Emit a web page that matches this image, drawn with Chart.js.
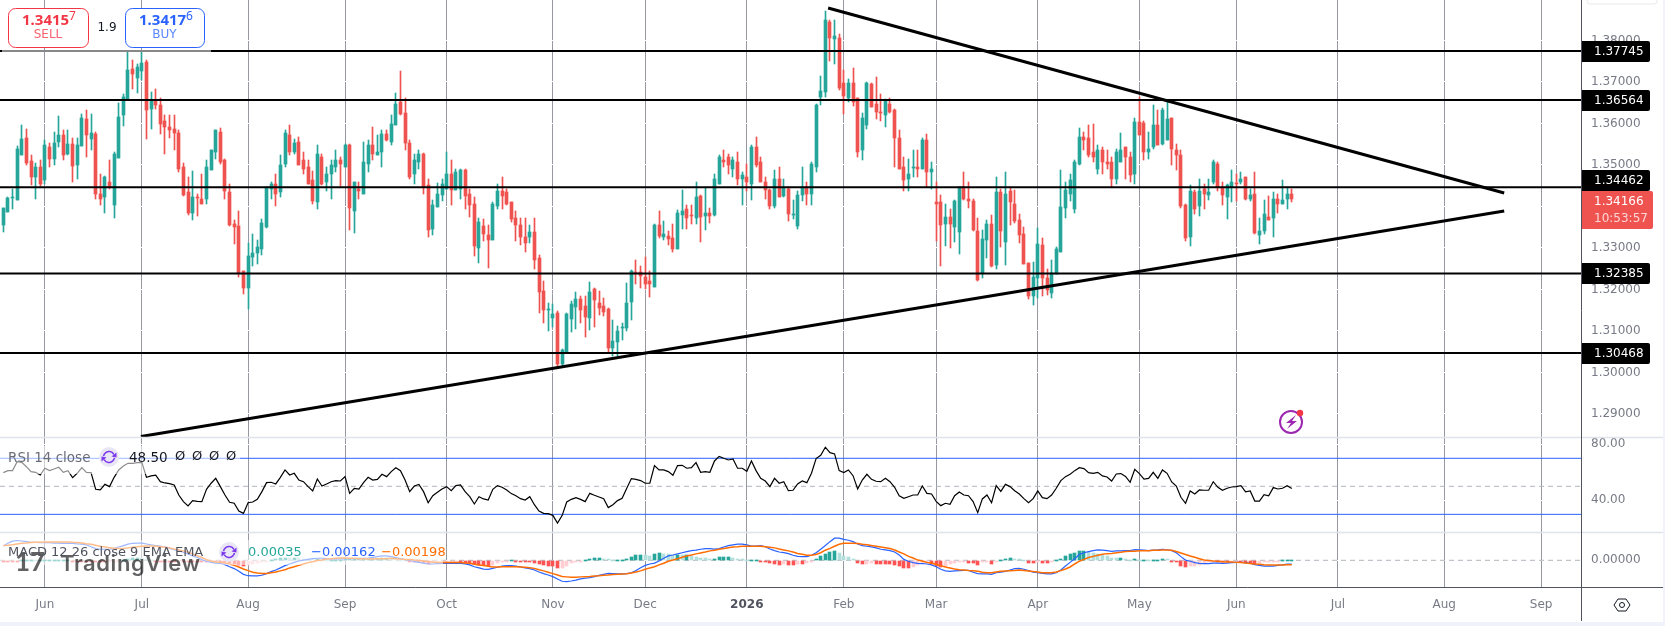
<!DOCTYPE html>
<html>
<head>
<meta charset="utf-8">
<title>GBPUSD daily</title>
<style>html,body{margin:0;padding:0;background:#fff}canvas{display:block}</style>
<script src="https://cdn.jsdelivr.net/npm/chart.js@4/dist/chart.umd.min.js"></script>
</head>
<body>
<canvas id="chart" width="1665" height="626"></canvas>
<script>
// Daily candles, one entry per trading session
const opens = [
1.3355,1.3387,1.3420,1.3415,1.3525,1.3566,1.3510,1.3470,1.3494,1.3463,
1.3544,1.3515,1.3556,1.3573,1.3527,1.3551,1.3501,1.3545,1.3611,1.3563,
1.3575,1.3429,1.3422,1.3460,1.3403,1.3517,1.3621,1.3659,1.3731,1.3710,
1.3727,1.3748,1.3635,1.3657,1.3645,1.3607,1.3592,1.3587,1.3578,1.3494,
1.3434,1.3383,1.3422,1.3417,1.3417,1.3487,1.3530,1.3580,1.3513,1.3434,
1.3357,1.3352,1.3244,1.3203,1.3278,1.3287,1.3297,1.3350,1.3441,1.3453,
1.3434,1.3503,1.3571,1.3532,1.3556,1.3513,1.3494,1.3463,1.3410,1.3520,
1.3458,1.3479,1.3494,1.3513,1.3496,1.3547,1.3388,1.3441,1.3431,1.3503,
1.3549,1.3525,1.3532,1.3575,1.3556,1.3597,1.3652,1.3626,1.3554,1.3477,
1.3508,1.3527,1.3451,1.3345,1.3399,1.3428,1.3443,1.3479,1.3439,1.3441,
1.3487,1.3431,1.3407,1.3299,1.3352,1.3331,1.3319,1.3400,1.3436,1.3434,
1.3410,1.3371,1.3355,1.3326,1.3326,1.3338,1.3275,1.3196,1.3151,1.3131,
1.3143,1.3021,1.3050,1.3129,1.3158,1.3177,1.3160,1.3131,1.3201,1.3167,
1.3160,1.3153,1.3059,1.3074,1.3106,1.3107,1.3170,1.3241,1.3242,1.3230,
1.3220,1.3206,1.3355,1.3326,1.3328,1.3323,1.3297,1.3379,1.3393,1.3379,
1.3371,1.3424,1.3376,1.3383,1.3379,1.3455,1.3513,1.3520,1.3491,1.3508,
1.3467,1.3470,1.3453,1.3542,1.3506,1.3460,1.3439,1.3400,1.3467,1.3424,
1.3443,1.3379,1.3352,1.3427,1.3448,1.3431,1.3494,1.3664,1.3676,1.3844,
1.3803,1.3806,1.3698,1.3662,1.3698,1.3662,1.3535,1.3597,1.3695,1.3647,
1.3626,1.3621,1.3647,1.3633,1.3566,1.3494,1.3465,1.3492,1.3494,1.3491,
1.3559,1.3482,1.3410,1.3410,1.3357,1.3374,1.3350,1.3338,1.3446,1.3419,
1.3412,1.3340,1.3239,1.3319,1.3357,1.3259,1.3434,1.3314,1.3436,1.3407,
1.3367,1.3333,1.3263,1.3184,1.3227,1.3307,1.3227,1.3191,1.3237,1.3290,
1.3395,1.3431,1.3393,1.3503,1.3568,1.3566,1.3530,1.3489,1.3535,1.3508,
1.3506,1.3467,1.3506,1.3542,1.3518,1.3477,1.3604,1.3602,1.3530,1.3544,
1.3595,1.3551,1.3559,1.3614,1.3537,1.3525,1.3403,1.3326,1.3434,1.3400,
1.3441,1.3427,1.3458,1.3503,1.3448,1.3422,1.3448,1.3456,1.3458,1.3470,
1.3417,1.3431,1.3331,1.3340,1.3374,1.3371,1.3417,1.3407,1.3417,1.3431];
const highs = [
1.3395,1.3423,1.3443,1.3545,1.3595,1.3587,1.3523,1.3505,1.3513,1.3561,
1.3553,1.3580,1.3619,1.3585,1.3583,1.3565,1.3565,1.3623,1.3633,1.3623,
1.3580,1.3477,1.3473,1.3513,1.3532,1.3650,1.3671,1.3771,1.3753,1.3743,
1.3771,1.3753,1.3676,1.3683,1.3662,1.3621,1.3621,1.3621,1.3585,1.3505,
1.3470,1.3486,1.3429,1.3477,1.3513,1.3535,1.3585,1.3590,1.3515,1.3455,
1.3367,1.3388,1.3244,1.3311,1.3333,1.3319,1.3369,1.3448,1.3460,1.3479,
1.3525,1.3585,1.3597,1.3563,1.3568,1.3532,1.3511,1.3485,1.3547,1.3527,
1.3494,1.3513,1.3535,1.3518,1.3551,1.3551,1.3460,1.3460,1.3556,1.3559,
1.3592,1.3573,1.3585,1.3583,1.3621,1.3674,1.3727,1.3662,1.3561,1.3527,
1.3537,1.3529,1.3467,1.3415,1.3457,1.3467,1.3530,1.3511,1.3489,1.3491,
1.3489,1.3441,1.3422,1.3371,1.3369,1.3355,1.3410,1.3455,1.3472,1.3443,
1.3410,1.3388,1.3371,1.3371,1.3355,1.3371,1.3283,1.3220,1.3167,1.3165,
1.3148,1.3057,1.3143,1.3172,1.3194,1.3184,1.3184,1.3218,1.3203,1.3196,
1.3179,1.3155,1.3127,1.3112,1.3119,1.3215,1.3247,1.3271,1.3256,1.3278,
1.3244,1.3357,1.3388,1.3364,1.3340,1.3357,1.3391,1.3439,1.3403,1.3403,
1.3458,1.3427,1.3448,1.3395,1.3479,1.3525,1.3535,1.3527,1.3520,1.3532,
1.3484,1.3503,1.3549,1.3568,1.3518,1.3470,1.3441,1.3487,1.3496,1.3465,
1.3446,1.3415,1.3436,1.3494,1.3460,1.3508,1.3647,1.3715,1.3871,1.3849,
1.3849,1.3815,1.3729,1.3707,1.3734,1.3662,1.3626,1.3700,1.3698,1.3712,
1.3671,1.3659,1.3662,1.3635,1.3583,1.3518,1.3515,1.3537,1.3537,1.3566,
1.3575,1.3508,1.3459,1.3427,1.3405,1.3393,1.3415,1.3448,1.3484,1.3460,
1.3417,1.3371,1.3343,1.3367,1.3379,1.3470,1.3443,1.3482,1.3446,1.3439,
1.3381,1.3350,1.3263,1.3266,1.3347,1.3323,1.3249,1.3271,1.3302,1.3487,
1.3460,1.3479,1.3511,1.3590,1.3580,1.3597,1.3599,1.3547,1.3542,1.3535,
1.3520,1.3539,1.3578,1.3542,1.3532,1.3614,1.3664,1.3607,1.3580,1.3645,
1.3633,1.3638,1.3655,1.3614,1.3551,1.3535,1.3407,1.3451,1.3439,1.3465,
1.3455,1.3465,1.3511,1.3508,1.3460,1.3455,1.3487,1.3477,1.3484,1.3472,
1.3443,1.3484,1.3371,1.3415,1.3424,1.3434,1.3429,1.3463,1.3446,1.3443];
const lows = [
1.3339,1.3387,1.3393,1.3415,1.3525,1.3501,1.3451,1.3417,1.3449,1.3453,
1.3495,1.3501,1.3543,1.3511,1.3523,1.3459,1.3465,1.3545,1.3519,1.3537,
1.3417,1.3403,1.3383,1.3443,1.3371,1.3517,1.3593,1.3659,1.3683,1.3674,
1.3705,1.3563,1.3587,1.3635,1.3575,1.3527,1.3566,1.3535,1.3484,1.3425,
1.3379,1.3367,1.3377,1.3407,1.3405,1.3487,1.3515,1.3503,1.3417,1.3353,
1.3309,1.3230,1.3189,1.3153,1.3257,1.3261,1.3283,1.3347,1.3419,1.3400,
1.3422,1.3494,1.3523,1.3527,1.3501,1.3479,1.3453,1.3407,1.3393,1.3451,
1.3436,1.3417,1.3484,1.3449,1.3496,1.3343,1.3335,1.3417,1.3431,1.3484,
1.3513,1.3525,1.3496,1.3557,1.3549,1.3597,1.3621,1.3535,1.3465,1.3455,
1.3489,1.3429,1.3326,1.3331,1.3398,1.3414,1.3443,1.3403,1.3439,1.3417,
1.3393,1.3374,1.3280,1.3263,1.3316,1.3251,1.3319,1.3393,1.3393,1.3403,
1.3362,1.3316,1.3307,1.3290,1.3311,1.3249,1.3143,1.3119,1.3100,1.3109,
1.3014,1.3014,1.3050,1.3098,1.3105,1.3119,1.3086,1.3103,1.3110,1.3139,
1.3136,1.3047,1.3040,1.3040,1.3079,1.3100,1.3127,1.3213,1.3203,1.3201,
1.3182,1.3206,1.3323,1.3319,1.3307,1.3290,1.3297,1.3345,1.3345,1.3357,
1.3357,1.3314,1.3343,1.3359,1.3376,1.3455,1.3494,1.3479,1.3470,1.3451,
1.3403,1.3436,1.3415,1.3494,1.3458,1.3417,1.3393,1.3395,1.3422,1.3422,
1.3364,1.3369,1.3345,1.3412,1.3403,1.3403,1.3484,1.3645,1.3664,1.3751,
1.3743,1.3681,1.3623,1.3652,1.3643,1.3518,1.3511,1.3587,1.3640,1.3611,
1.3607,1.3592,1.3626,1.3496,1.3491,1.3436,1.3436,1.3470,1.3472,1.3489,
1.3446,1.3441,1.3316,1.3256,1.3304,1.3299,1.3314,1.3285,1.3415,1.3395,
1.3340,1.3220,1.3227,1.3275,1.3254,1.3249,1.3302,1.3259,1.3355,1.3359,
1.3311,1.3261,1.3177,1.3163,1.3179,1.3184,1.3187,1.3179,1.3237,1.3290,
1.3371,1.3412,1.3383,1.3501,1.3537,1.3518,1.3506,1.3477,1.3477,1.3489,
1.3448,1.3455,1.3506,1.3465,1.3460,1.3455,1.3573,1.3513,1.3515,1.3539,
1.3549,1.3549,1.3559,1.3501,1.3487,1.3395,1.3316,1.3304,1.3381,1.3376,
1.3393,1.3415,1.3453,1.3436,1.3403,1.3369,1.3410,1.3412,1.3453,1.3415,
1.3412,1.3333,1.3309,1.3333,1.3367,1.3326,1.3383,1.3407,1.3393,1.3410];
const closes = [
1.3395,1.3421,1.3421,1.3539,1.3563,1.3505,1.3471,1.3494,1.3453,1.3547,
1.3515,1.3553,1.3571,1.3525,1.3551,1.3497,1.3547,1.3614,1.3573,1.3577,
1.3429,1.3419,1.3470,1.3447,1.3527,1.3616,1.3663,1.3729,1.3719,1.3735,
1.3746,1.3633,1.3655,1.3645,1.3599,1.3592,1.3585,1.3578,1.3489,1.3427,
1.3383,1.3422,1.3420,1.3407,1.3494,1.3535,1.3583,1.3506,1.3436,1.3355,
1.3350,1.3239,1.3203,1.3280,1.3287,1.3302,1.3359,1.3448,1.3453,1.3431,
1.3501,1.3578,1.3530,1.3554,1.3501,1.3491,1.3453,1.3412,1.3527,1.3453,
1.3479,1.3499,1.3513,1.3503,1.3547,1.3395,1.3460,1.3436,1.3508,1.3547,
1.3527,1.3532,1.3575,1.3559,1.3599,1.3647,1.3623,1.3554,1.3470,1.3513,
1.3527,1.3447,1.3343,1.3403,1.3431,1.3453,1.3479,1.3439,1.3482,1.3487,
1.3424,1.3403,1.3304,1.3362,1.3333,1.3319,1.3405,1.3436,1.3424,1.3405,
1.3369,1.3355,1.3326,1.3311,1.3338,1.3271,1.3194,1.3151,1.3153,1.3141,
1.3021,1.3055,1.3141,1.3165,1.3177,1.3151,1.3134,1.3194,1.3175,1.3155,
1.3146,1.3059,1.3076,1.3100,1.3108,1.3167,1.3244,1.3239,1.3232,1.3213,
1.3213,1.3355,1.3328,1.3333,1.3321,1.3297,1.3383,1.3388,1.3371,1.3377,
1.3422,1.3374,1.3383,1.3376,1.3465,1.3520,1.3506,1.3499,1.3513,1.3467,
1.3475,1.3460,1.3544,1.3501,1.3458,1.3439,1.3400,1.3465,1.3422,1.3448,
1.3381,1.3381,1.3427,1.3446,1.3431,1.3503,1.3645,1.3679,1.3849,1.3806,
1.3811,1.3686,1.3667,1.3698,1.3652,1.3530,1.3614,1.3698,1.3640,1.3628,
1.3624,1.3657,1.3628,1.3566,1.3491,1.3463,1.3479,1.3494,1.3489,1.3561,
1.3482,1.3489,1.3405,1.3355,1.3374,1.3357,1.3412,1.3446,1.3417,1.3412,
1.3343,1.3223,1.3321,1.3357,1.3256,1.3434,1.3340,1.3429,1.3410,1.3364,
1.3331,1.3261,1.3184,1.3230,1.3309,1.3227,1.3199,1.3239,1.3297,1.3398,
1.3439,1.3463,1.3506,1.3568,1.3559,1.3525,1.3518,1.3535,1.3508,1.3503,
1.3465,1.3532,1.3535,1.3518,1.3475,1.3604,1.3573,1.3530,1.3539,1.3595,
1.3549,1.3633,1.3611,1.3539,1.3523,1.3400,1.3323,1.3436,1.3393,1.3436,
1.3429,1.3434,1.3508,1.3446,1.3427,1.3451,1.3458,1.3454,1.3465,1.3417,
1.3427,1.3337,1.3340,1.3381,1.3367,1.3417,1.3405,1.3415,1.3429,1.3417];

// RSI 14 on the close
const rsiValues = [
59.8,61.2,61.2,67.6,67.1,64,60.5,60,58.1,62.9,
61.2,62.4,63.6,60,61.2,56.2,59.3,63.3,60,59.8,
47.9,47.4,51.4,49.8,56.4,61.7,64.5,66.4,66.4,66.9,
67.1,56.4,57.4,57.9,53.3,52.4,51.9,51,43.8,39.1,
36,39.8,39.3,39.1,47.9,52.2,55.7,49.8,43.8,38.6,
37.9,32.4,30.7,38.3,38.8,40.7,46.2,52.6,52.9,51.7,
56.4,61.7,58.1,59.3,54.5,53.3,49.8,46.7,55.2,50.2,
51.7,53.3,54.1,53.8,56.9,45,48.6,48.1,52.6,56.4,
54.5,55,58.6,56.9,60.5,63.3,61.2,54.5,46.2,50.2,
51.4,46.2,38.3,43.3,45.7,48.1,49.8,46.9,50.5,51,
46.2,42.6,37.4,42.6,41,40.2,47.9,50.5,49.3,47.4,
44.8,43.3,41.2,40.2,42.6,36.9,32.4,30.7,30.5,29.3,
23.8,29.1,38.8,40.7,41.9,40.7,39.1,45,43.6,42.4,
41.2,34.8,36.9,39.8,41.4,48.6,55.5,55,54.1,52.2,
52.2,64.8,61.7,61.7,60.5,57.9,64.8,65,62.9,63.3,
66.9,60,60.5,60,68.1,71.4,70,68.8,69.5,62.9,
62.9,60.7,68.1,61.2,55.7,53.8,49.8,55.7,52.2,53.3,
46.9,47.2,51.7,53.8,52.6,59.3,69.8,72.1,77.9,74,
73.1,61.2,59.8,61.7,57.6,48.1,54.5,58.6,55,53.6,
53.3,55.7,53.3,49.3,43.3,41.4,42.6,43.8,43.8,50.2,
45,44.5,39.3,36.2,37.9,37.2,43.3,46,43.8,43.3,
39.1,31.2,41,43.8,38.3,50.5,46.4,51.4,49.8,46.9,
44.5,41.2,38.3,41.2,46.7,41.9,41.2,43.8,48.6,54.1,
56.9,58.6,61.2,63.3,62.6,59.8,59.3,60,57.4,56.7,
53.8,58.8,59.1,57.1,52.9,62.1,59.1,55.2,55.7,60,
55.7,61.7,59.3,53.1,50.2,42.2,37.9,46.7,44.5,47.4,
47.2,47.2,53.3,49.3,47.2,48.6,49.5,49.8,50.5,46,
46.7,39.5,39.5,44.1,43.3,49.1,48.1,48.6,50.5,48.5];
const rsiBands = [70, 30];
const rsiMiddle = 50;

// MACD 12 26 9
const macdLine = [
.0062,.0074,.0083,.0086,.0084,.0081,.0078,.0078,.0077,.0077,
.0077,.0075,.0075,.0074,.0074,.0073,.0071,.0070,.0067,.0059,
.0051,.0048,.0048,.0049,.0052,.0058,.0064,.0070,.0074,.0075,
.0075,.0071,.0067,.0064,.0062,.0058,.0052,.0046,.0041,.0035,
.0028,.0019,.0012,.0003,-.0004,-.0009,-.0012,-.0013,-.0019,-.0028,
-.0036,-.0048,-.0061,-.0067,-.0068,-.0068,-.0065,-.0058,-.0049,-.0042,
-.0033,-.0023,-.0016,-.0009,-.0003,.0001,.0004,.0007,.0009,.0009,
.0007,.0006,.0006,.0006,.0007,.0007,.0007,.0009,.0009,.0010,
.0013,.0016,.0019,.0019,.0016,.0012,.0007,.0003,-.0001,-.0006,
-.0009,-.0012,-.0016,-.0016,-.0014,-.0013,-.0013,-.0013,-.0013,-.0013,
-.0016,-.0020,-.0028,-.0033,-.0038,-.0039,-.0035,-.0030,-.0025,-.0023,
-.0023,-.0025,-.0029,-.0033,-.0036,-.0042,-.0051,-.0058,-.0064,-.0071,
-.0081,-.0091,-.0093,-.0090,-.0086,-.0081,-.0078,-.0075,-.0071,-.0065,
-.0061,-.0057,-.0058,-.0059,-.0059,-.0058,-.0054,-.0044,-.0032,-.0022,
-.0016,-.0012,-.0003,.0009,.0019,.0023,.0028,.0033,.0038,.0042,
.0044,.0048,.0051,.0051,.0049,.0051,.0058,.0064,.0067,.0070,
.0070,.0067,.0062,.0062,.0064,.0059,.0049,.0042,.0036,.0033,
.0029,.0022,.0017,.0016,.0016,.0022,.0033,.0048,.0064,.0081,
.0096,.0096,.0091,.0087,.0081,.0071,.0064,.0061,.0058,.0054,
.0048,.0045,.0042,.0036,.0023,.0004,-.0004,-.0010,-.0013,-.0014,
-.0016,-.0020,-.0028,-.0039,-.0046,-.0048,-.0046,-.0045,-.0044,-.0044,
-.0052,-.0058,-.0059,-.0059,-.0061,-.0054,-.0052,-.0048,-.0042,-.0036,
-.0035,-.0039,-.0045,-.0051,-.0054,-.0057,-.0059,-.0059,-.0054,-.0042,
-.0025,-.0009,.0007,.0025,.0033,.0038,.0042,.0045,.0044,.0042,
.0039,.0041,.0041,.0042,.0042,.0046,.0045,.0044,.0042,.0044,
.0045,.0048,.0046,.0042,.0033,.0016,.0001,-.0004,-.0010,-.0013,
-.0014,-.0014,-.0012,-.0012,-.0013,-.0012,-.0010,-.0009,-.0009,-.0010,
-.0013,-.0019,-.0022,-.0025,-.0025,-.0025,-.0022,-.0020,-.0017,-.00162];
const signalLine = [
.0064,.0065,.0068,.0071,.0074,.0075,.0077,.0078,.0078,.0080,
.0080,.0080,.0080,.0080,.0080,.0078,.0077,.0075,.0072,.0070,
.0065,.0061,.0058,.0055,.0052,.0051,.0051,.0054,.0057,.0059,
.0061,.0062,.0062,.0061,.0059,.0057,.0054,.0049,.0045,.0041,
.0035,.0028,.0020,.0012,.0003,-.0003,-.0007,-.0009,-.0012,-.0016,
-.0022,-.0029,-.0038,-.0045,-.0052,-.0055,-.0057,-.0057,-.0054,-.0051,
-.0046,-.0041,-.0033,-.0028,-.0022,-.0016,-.0010,-.0006,-.0001,.0001,
.0006,.0007,.0009,.0010,.0010,.0009,.0009,.0007,.0007,.0006,
.0006,.0007,.0007,.0007,.0009,.0007,.0006,.0004,.0003,.0001,
.0000,-.0003,-.0006,-.0007,-.0009,-.0009,-.0010,-.0010,-.0010,-.0010,
-.0012,-.0013,-.0017,-.0020,-.0023,-.0026,-.0029,-.0029,-.0028,-.0028,
-.0028,-.0028,-.0029,-.0030,-.0032,-.0035,-.0041,-.0046,-.0052,-.0058,
-.0064,-.0070,-.0072,-.0074,-.0074,-.0072,-.0071,-.0070,-.0068,-.0067,
-.0065,-.0064,-.0062,-.0061,-.0059,-.0058,-.0055,-.0051,-.0046,-.0039,
-.0033,-.0028,-.0020,-.0013,-.0004,.0001,.0007,.0013,.0019,.0023,
.0028,.0032,.0036,.0041,.0044,.0048,.0051,.0055,.0058,.0059,
.0061,.0061,.0061,.0061,.0061,.0059,.0057,.0054,.0049,.0045,
.0041,.0036,.0030,.0026,.0022,.0022,.0025,.0033,.0044,.0052,
.0061,.0070,.0074,.0074,.0074,.0073,.0070,.0068,.0064,.0061,
.0058,.0055,.0051,.0045,.0036,.0028,.0017,.0010,.0001,-.0003,
-.0009,-.0013,-.0017,-.0023,-.0029,-.0033,-.0038,-.0041,-.0042,-.0044,
-.0045,-.0048,-.0052,-.0054,-.0054,-.0051,-.0048,-.0046,-.0045,-.0044,
-.0042,-.0044,-.0046,-.0049,-.0051,-.0054,-.0054,-.0054,-.0051,-.0045,
-.0038,-.0029,-.0016,-.0004,.0004,.0012,.0017,.0022,.0026,.0029,
.0030,.0033,.0035,.0038,.0039,.0039,.0041,.0041,.0042,.0044,
.0044,.0045,.0045,.0044,.0038,.0032,.0025,.0019,.0013,.0007,
.0001,-.0001,-.0003,-.0004,-.0006,-.0007,-.0007,-.0009,-.0010,-.0012,
-.0014,-.0016,-.0017,-.0019,-.0020,-.0020,-.0020,-.0020,-.0019,-.00198];
const macdHistogram = [
-.00029,-.00029,-.00029,-.00029,.00015,.00029,.00029,.00015,.00015,.00015,
.00015,.00015,.00015,.00015,.00015,-.00015,-.00015,-.00015,-.00029,-.00044,
-.00058,-.00058,-.00058,-.00044,-.00029,-.00015,.00029,.00058,.00087,.00102,
.00087,.00044,.00015,-.00015,-.00029,-.00044,-.00044,-.00044,-.00029,-.00044,
-.00044,-.00058,-.00058,-.00058,-.00058,-.00044,-.00044,-.00044,-.00073,-.00116,
-.00145,-.00189,-.00232,-.00203,-.0016,-.00116,-.00073,-.00015,.00015,.00044,
.00087,.00116,.00102,.00102,.00087,.00073,.00058,.00044,.00044,.00029,
.00015,.00015,.00015,.00029,.00044,.00044,.00044,.00044,.00058,.00073,
.00073,.00073,.00087,.00087,.00073,.00044,.00029,.00015,-.00015,-.00044,
-.00073,-.00116,-.00145,-.00131,-.00116,-.00087,-.00058,-.00044,-.00029,-.00044,
-.00102,-.00131,-.00174,-.00203,-.00218,-.00232,-.00189,-.00131,-.00044,-.00015,
.00015,-.00029,-.00044,-.00044,-.00073,-.00102,-.00145,-.00189,-.00232,-.00261,
-.00334,-.00319,-.00232,-.00131,-.00058,-.00029,.00029,.00058,.00087,.00087,
.00073,.00044,.00015,.00015,.00029,.00073,.00131,.00232,.00247,.00232,
.00189,.0029,.00319,.00276,.00261,.00232,.00232,.00218,.00232,.00203,
.0016,.00116,.00087,.00073,.00073,.00131,.00145,.00145,.00087,.00058,
.00044,.00015,.00015,.00015,-.00044,-.00087,-.00131,-.00174,-.00189,-.00174,
-.00189,-.00218,-.0016,-.0016,-.00116,-.00044,.00073,.00203,.0029,.00377,
.00406,.00305,.00203,.0016,.00058,-.00102,-.0016,-.00145,-.00131,-.0016,
-.0016,-.0016,-.00174,-.00203,-.00261,-.00319,-.00319,-.00276,-.00203,-.00131,
-.00102,-.00174,-.00247,-.00305,-.00232,-.0016,-.00116,-.00087,-.00058,-.00102,
-.00131,-.00203,-.00087,-.00044,-.00145,-.00029,.00029,.00058,.00102,.00073,
.00058,.00029,-.00102,-.00102,-.00029,-.00102,-.00116,-.00087,.00015,.00073,
.00174,.00276,.00319,.00392,.00406,.00348,.00319,.0029,.00218,.00174,
.00116,.00087,.00087,.00044,.00029,.00058,.00029,.00029,.00015,.00015,
.00029,.00058,.00044,-.00029,-.00073,-.00232,-.0029,-.00261,-.00247,-.00203,
-.00145,-.00087,-.00058,-.00058,-.00058,-.00073,-.00044,-.00029,-.00044,-.00102,
-.00116,-.00145,-.00131,-.00087,-.00073,-.00044,-.00029,.00008,.00015,.00035];

// Support and resistance levels, and the two converging trend lines
const priceLevels = [1.37745, 1.36564, 1.34462, 1.32385, 1.30468];
const fallingTrendX = [178.6, 325];
const fallingTrendY = [1.38781, 1.34323];
const risingTrendX = [29.8, 325];
const risingTrendY = [1.28456, 1.3389];
const lastPrice = 1.34166;
const countdown = '10:53:57';

// Axis ticks
const priceTicks = [1.29, 1.3, 1.31, 1.32, 1.33, 1.34, 1.35, 1.36, 1.37, 1.38];
const rsiTicks = [40, 80];
const macdTicks = [0];
const timeTickSessions = [9, 30, 53, 74, 96, 119, 139, 161, 182, 202, 224, 246, 267, 289, 312, 333];
const timeTickLabels = ['Jun','Jul','Aug','Sep','Oct','Nov','Dec','2026','Feb','Mar','Apr','May','Jun','Jul','Aug','Sep'];

const UP = '#26a69a', DOWN = '#ef5350', INK = '#131722', MUTED = '#787b86';
const FONT = '"DejaVu Sans", sans-serif';
const sessions = closes.map((_, i) => i);
const X_MIN = -0.715, X_MAX = 341.63;

const candleColor = sessions.map(i => closes[i] >= opens[i] ? UP : DOWN);
const histColor = macdHistogram.map((v, i) => {
  const prev = i ? macdHistogram[i - 1] : 0;
  if (v >= 0) return v >= prev ? '#26a69a' : '#b2dfdb';
  return v <= prev ? '#ff5252' : '#ffcdd2';
});

const lineSet = (data, axis, color, width, extra) => Object.assign({
  type: 'line', data, yAxisID: axis, borderColor: color, borderWidth: width,
  pointRadius: 0, tension: 0, fill: false
}, extra);
const flat = (value, axis, color, width, extra) =>
  lineSet([{ x: X_MIN, y: value }, { x: X_MAX, y: value }], axis, color, width, extra);

const datasets = [
  { type: 'bar', yAxisID: 'y', order: 6, grouped: false, barThickness: 1, backgroundColor: candleColor,
    data: sessions.map(i => ({ x: i, y: [lows[i], highs[i]] })) },
  { type: 'bar', yAxisID: 'y', order: 5, grouped: false, barThickness: 3, minBarLength: 1, backgroundColor: candleColor,
    data: sessions.map(i => ({ x: i, y: [opens[i], closes[i]] })) },
  ...priceLevels.map(v => flat(v, 'y', '#000', 2, { order: 3 })),
  lineSet(fallingTrendX.map((x, i) => ({ x, y: fallingTrendY[i] })), 'y', '#000', 3, { order: 2 }),
  lineSet(risingTrendX.map((x, i) => ({ x, y: risingTrendY[i] })), 'y', '#000', 3, { order: 2 }),

  ...rsiBands.map(v => flat(v, 'rsi', '#2962ff', 1, { order: 4 })),
  flat(rsiMiddle, 'rsi', '#b2b5be', 1, { order: 4, borderDash: [5, 4] }),
  lineSet(sessions.map(i => ({ x: i, y: rsiValues[i] })), 'rsi', '#000', 1.2, { order: 2 }),

  flat(0, 'macd', '#b2b5be', 1, { order: 5, borderDash: [5, 4] }),
  { type: 'bar', yAxisID: 'macd', order: 4, grouped: false, barThickness: 3, backgroundColor: histColor,
    data: sessions.map(i => ({ x: i, y: macdHistogram[i] })) },
  lineSet(sessions.map(i => ({ x: i, y: macdLine[i] })), 'macd', '#2962ff', 1.2, { order: 3 }),
  lineSet(sessions.map(i => ({ x: i, y: signalLine[i] })), 'macd', '#ff6d00', 1.5, { order: 2 })
];

const paneAxis = (min, max, weight, ticks, digits) => ({
  type: 'linear', position: 'right', stack: 'panes', stackWeight: weight, min, max,
  border: { display: false },
  grid: { color: '#ffffff', lineWidth: 1, drawTicks: false },
  afterBuildTicks: axis => { axis.ticks = ticks.map(value => ({ value })); },
  afterFit: axis => { axis.width = 84; axis.paddingTop = 0; axis.paddingBottom = 0; },
  ticks: {
    padding: 10, color: MUTED, autoSkip: false,
    font: { family: FONT, size: 12 },
    callback: v => Number(v).toFixed(digits)
  }
});

// Crisp candles: whole-pixel columns and edges, as the terminal renders them
const pixelSnap = {
  id: 'pixelSnap',
  afterDatasetsUpdate(chart) {
    chart.getSortedVisibleDatasetMetas().forEach(meta => {
      if (meta.type !== 'bar') return;
      meta.data.forEach(bar => {
        bar.x = Math.floor(bar.x) + 0.5;
        bar.y = Math.round(bar.y);
        bar.base = Math.round(bar.base);
        if (bar.y === bar.base) bar.base += 1;
      });
    });
  }
};

function rule(ctx, x0, y0, x1, y1, color, width) {
  ctx.strokeStyle = color; ctx.lineWidth = width;
  ctx.beginPath(); ctx.moveTo(x0, y0); ctx.lineTo(x1, y1); ctx.stroke();
}
function label(ctx, text, x, y, font, color, align) {
  ctx.font = font; ctx.fillStyle = color; ctx.textAlign = align || 'left';
  ctx.textBaseline = 'middle'; ctx.fillText(text, x, y);
}
function syncIcon(ctx, cx, cy) {
  ctx.fillStyle = '#e9e6f5';
  ctx.beginPath(); ctx.arc(cx, cy, 10, 0, Math.PI * 2); ctx.fill();
  ctx.strokeStyle = '#7c3aed'; ctx.lineWidth = 1.6;
  ctx.beginPath(); ctx.arc(cx, cy, 5.5, Math.PI * 1.05, Math.PI * 1.85); ctx.stroke();
  ctx.beginPath(); ctx.arc(cx, cy, 5.5, Math.PI * 0.05, Math.PI * 0.85); ctx.stroke();
  ctx.fillStyle = '#7c3aed';
  ctx.beginPath(); ctx.moveTo(cx + 7.5, cy - 4.5); ctx.lineTo(cx + 7.5, cy + 0.5); ctx.lineTo(cx + 2.5, cy - 0.5); ctx.fill();
  ctx.beginPath(); ctx.moveTo(cx - 7.5, cy + 4.5); ctx.lineTo(cx - 7.5, cy - 0.5); ctx.lineTo(cx - 2.5, cy + 0.5); ctx.fill();
}
function orderBox(ctx, x, w, color, soft, price, last, caption) {
  ctx.fillStyle = '#fff'; ctx.strokeStyle = color; ctx.lineWidth = 1;
  ctx.beginPath(); ctx.roundRect(x + 0.5, 8.5, w, 39, 7); ctx.fill(); ctx.stroke();
  label(ctx, price, x + 14, 21, 'bold 15px "Noto Sans", sans-serif', color);
  label(ctx, last, x + 61, 17, '12px "Noto Sans", sans-serif', color);
  label(ctx, caption, x + w / 2, 35, '12px ' + FONT, soft, 'center');
}

// Chrome around the plot: pane rules, indicator legends, order widget and price tags
const terminalChrome = {
  id: 'terminalChrome',
  afterDraw(chart) {
    const ctx = chart.ctx, y = chart.scales.y;
    ctx.save();

    // Legends sit on a translucent strip over the indicator lines
    ctx.fillStyle = 'rgba(255,255,255,0.55)';
    ctx.fillRect(0, 446, 240, 28);
    ctx.fillRect(0, 540, 443, 25);

    // Watermark
    ctx.fillStyle = 'rgba(0,0,0,0.62)';
    ctx.textAlign = 'left'; ctx.textBaseline = 'alphabetic';
    ctx.font = 'bold 26px Lato, sans-serif';
    ctx.fillText('17', 15, 571);
    ctx.font = '600 22px Inter, sans-serif';
    ctx.letterSpacing = '0.6px';
    ctx.fillText('TradingView', 60, 571);
    ctx.letterSpacing = '0px';

    label(ctx, 'RSI 14 close', 8, 458, '13.5px ' + FONT, '#6a6d78');
    syncIcon(ctx, 109, 457);
    label(ctx, '48.50', 129, 458, '13.5px ' + FONT, INK);
    [175, 192, 209, 226].forEach(x => label(ctx, '\u00D8', x, 457, '13px ' + FONT, INK));

    label(ctx, 'MACD 12 26 close 9 EMA EMA', 8, 553, '13px ' + FONT, '#50535e');
    syncIcon(ctx, 229, 552);
    label(ctx, '0.00035', 248, 553, '13px ' + FONT, UP);
    label(ctx, '\u22120.00162', 311, 553, '13px ' + FONT, '#2962ff');
    label(ctx, '\u22120.00198', 381, 553, '13px ' + FONT, '#ff6d00');

    // Pane separators and axis rules
    rule(ctx, 0, 437.5, 1663, 437.5, '#e0e3eb', 1.5);
    rule(ctx, 0, 532.5, 1663, 532.5, '#e0e3eb', 1.5);
    rule(ctx, 0, 587.5, 1663, 587.5, '#50535e', 1);
    rule(ctx, 1581.5, 0, 1581.5, 621, '#50535e', 1);
    ctx.fillStyle = '#f0f3fa';
    ctx.fillRect(1663, 0, 2, 626);
    ctx.fillRect(0, 622, 1665, 4);
    ctx.strokeStyle = '#e8e9ee'; ctx.lineWidth = 1;
    ctx.beginPath(); ctx.roundRect(1587, -8, 70, 12, 3); ctx.stroke();

    // Order widget on top of the upper level line
    rule(ctx, 2, y.getPixelForValue(priceLevels[0]), 211, y.getPixelForValue(priceLevels[0]), '#888888', 2);
    orderBox(ctx, 8, 80, '#f23645', '#f7626f', '1.3415', '7', 'SELL');
    orderBox(ctx, 125, 79, '#2962ff', '#5b86ff', '1.3417', '6', 'BUY');
    label(ctx, '1.9', 107, 28, '12px ' + FONT, INK, 'center');

    // Price tags on the right scale; a tag that would run into the live price is lifted above it
    const lastY = Math.round(y.getPixelForValue(lastPrice));
    const lastTop = lastY - 9;
    priceLevels.forEach(v => {
      let py = Math.round(y.getPixelForValue(v));
      if (py + 11 > lastTop && py - 10 < lastY + 29) py = lastTop - 11;
      ctx.fillStyle = '#000';
      ctx.beginPath(); ctx.roundRect(1582, py - 10, 68, 21, [0, 2, 2, 0]); ctx.fill();
      label(ctx, v.toFixed(5), 1594, py + 1, '12px ' + FONT, '#fff');
    });
    ctx.fillStyle = DOWN;
    ctx.beginPath(); ctx.roundRect(1582, lastTop, 71, 38, [0, 2, 2, 0]); ctx.fill();
    label(ctx, lastPrice.toFixed(5), 1594, lastY + 2, '12px ' + FONT, '#fff');
    label(ctx, countdown, 1594, lastY + 19, '12px ' + FONT, '#fbd5d5');

    // Scale settings hexagon
    ctx.strokeStyle = INK; ctx.lineWidth = 1;
    ctx.beginPath();
    [[-8, 0], [-4, -6], [4, -6], [8, 0], [4, 6], [-4, 6]].forEach((p, i) =>
      i ? ctx.lineTo(1622 + p[0], 605 + p[1]) : ctx.moveTo(1622 + p[0], 605 + p[1]));
    ctx.closePath(); ctx.stroke();
    ctx.beginPath(); ctx.arc(1622, 605, 2.5, 0, Math.PI * 2); ctx.stroke();

    // Alert badge
    ctx.strokeStyle = '#9c27b0'; ctx.lineWidth = 2;
    ctx.beginPath(); ctx.arc(1291, 422, 11, 0, Math.PI * 2); ctx.stroke();
    ctx.fillStyle = '#9c27b0';
    ctx.beginPath();
    ctx.moveTo(1296, 415); ctx.lineTo(1286, 423); ctx.lineTo(1291, 423);
    ctx.lineTo(1287, 429); ctx.lineTo(1297, 421); ctx.lineTo(1292, 421);
    ctx.closePath(); ctx.fill();
    ctx.fillStyle = '#f23645';
    ctx.beginPath(); ctx.arc(1300, 413, 3.2, 0, Math.PI * 2); ctx.fill();

    ctx.restore();
  }
};

new Chart(document.getElementById('chart'), {
  type: 'line',
  data: { datasets },
  plugins: [pixelSnap, terminalChrome],
  options: {
    responsive: false,
    animation: false,
    devicePixelRatio: 1,
    events: [],
    parsing: true,
    layout: { padding: 0 },
    plugins: { legend: { display: false }, tooltip: { enabled: false } },
    scales: {
      x: {
        type: 'linear', min: X_MIN, max: X_MAX, offset: false,
        border: { display: false },
        grid: { color: '#9598a1', lineWidth: 1, drawTicks: false, offset: false },
        afterBuildTicks: axis => { axis.ticks = timeTickSessions.map(value => ({ value })); },
        afterFit: axis => { axis.height = 39; axis.paddingLeft = 0; axis.paddingRight = 0; },
        ticks: {
          autoSkip: false, maxRotation: 0, padding: 11,
          color: ctx => timeTickLabels[ctx.index] === '2026' ? '#50535e' : MUTED,
          font: ctx => ({ family: FONT, size: 12, weight: timeTickLabels[ctx.index] === '2026' ? 'bold' : 'normal' }),
          callback: (v, i) => timeTickLabels[i]
        }
      },
      y: paneAxis(1.28444, 1.38974, 437, priceTicks, 5),
      rsi: paneAxis(17.4, 85.2, 95, rsiTicks, 2),
      macd: paneAxis(-0.0116, 0.0123, 55, macdTicks, 5)
    }
  }
});
</script>
</body>
</html>
